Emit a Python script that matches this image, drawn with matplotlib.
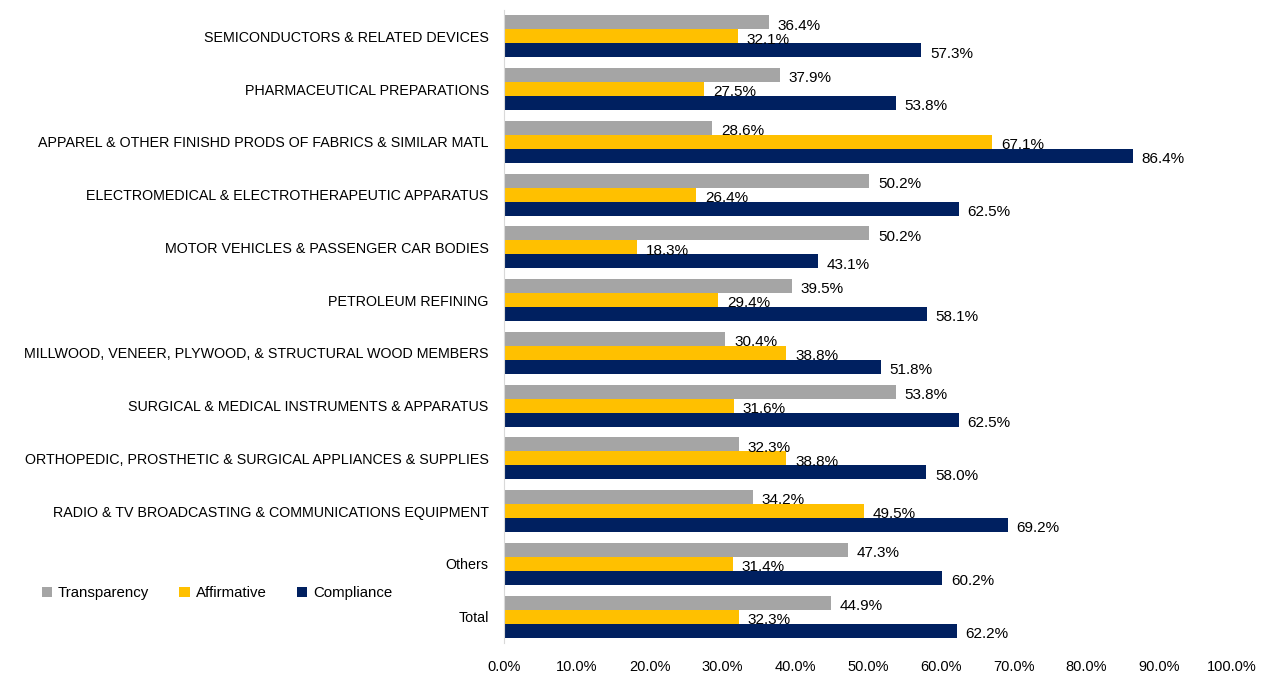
import matplotlib.pyplot as plt
import numpy as np

categories = [
    "SEMICONDUCTORS & RELATED DEVICES",
    "PHARMACEUTICAL PREPARATIONS",
    "APPAREL & OTHER FINISHD PRODS OF FABRICS & SIMILAR MATL",
    "ELECTROMEDICAL & ELECTROTHERAPEUTIC APPARATUS",
    "MOTOR VEHICLES & PASSENGER CAR BODIES",
    "PETROLEUM REFINING",
    "MILLWOOD, VENEER, PLYWOOD, & STRUCTURAL WOOD MEMBERS",
    "SURGICAL & MEDICAL INSTRUMENTS & APPARATUS",
    "ORTHOPEDIC, PROSTHETIC & SURGICAL APPLIANCES & SUPPLIES",
    "RADIO & TV BROADCASTING & COMMUNICATIONS EQUIPMENT",
    "Others",
    "Total",
]
transparency = [36.4, 37.9, 28.6, 50.2, 50.2, 39.5, 30.4, 53.8, 32.3, 34.2, 47.3, 44.9]
affirmative = [32.1, 27.5, 67.1, 26.4, 18.3, 29.4, 38.8, 31.6, 38.8, 49.5, 31.4, 32.3]
compliance = [57.3, 53.8, 86.4, 62.5, 43.1, 58.1, 51.8, 62.5, 58.0, 69.2, 60.2, 62.2]
xticks = np.arange(0, 101, 10)

plt.rcParams['font.family'] = ['Liberation Sans', 'DejaVu Sans']

fig = plt.figure(figsize=(12.72, 6.74), dpi=100)
ax = fig.add_axes([504 / 1272, 31 / 674, 728 / 1272, 633 / 674])

y = np.arange(len(categories))
h = 0.266
series = [
    ("Transparency", transparency, "#A5A5A5", -h),
    ("Affirmative", affirmative, "#FFC000", 0),
    ("Compliance", compliance, "#002060", h),
]
for name, vals, color, off in series:
    bars = ax.barh(y + off, vals, height=h, color=color, label=name)
    for b, v in zip(bars, vals):
        ax.text(v + 1.2, b.get_y() + b.get_height() / 2 + 0.06, f"{v:.1f}%",
                va="center", ha="left", fontsize=11, color="#000000")

ax.set_ylim(len(categories) - 0.5, -0.5)
ax.set_xlim(0, 100)
ax.set_yticks(y)
ax.set_yticklabels(categories, fontsize=10.3)
ax.set_xticks(xticks)
ax.set_xticklabels([f"{t:.1f}%" for t in xticks], fontsize=10.5)
ax.tick_params(axis="both", length=0)
ax.tick_params(axis="x", pad=12)
ax.tick_params(axis="y", pad=11)
for s in ["top", "right", "bottom"]:
    ax.spines[s].set_visible(False)
ax.spines["left"].set_color("#D9D9D9")

fig.legend(loc="center left", bbox_to_anchor=(28 / 1272, 1 - 593 / 674), ncol=3,
           frameon=False, fontsize=10.8, handlelength=0.7, handleheight=0.7,
           handletextpad=0.4, columnspacing=2.0)

fig.savefig("out.png", dpi=100)
